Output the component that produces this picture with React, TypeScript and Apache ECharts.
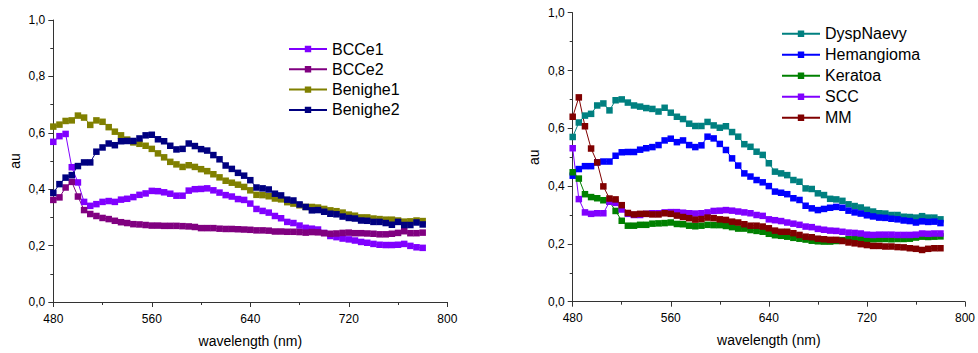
import React, { useEffect, useRef } from "react";
import * as echarts from "echarts";

// wavelengths 480..780 nm, step 5
const wavelengths: number[] = Array.from({ length: 61 }, (_, i) => 480 + 5 * i);

const xTicks = [480, 560, 640, 720, 800];

// Left panel
const BCCe1 = [0.568,0.588,0.596,0.478,0.424,0.355,0.341,0.347,0.355,0.358,0.355,0.363,0.366,0.372,0.380,0.385,0.394,0.393,0.389,0.384,0.377,0.377,0.395,0.400,0.401,0.403,0.396,0.388,0.379,0.374,0.365,0.362,0.349,0.330,0.323,0.317,0.305,0.297,0.284,0.280,0.271,0.263,0.260,0.257,0.245,0.234,0.230,0.225,0.222,0.218,0.213,0.210,0.206,0.203,0.202,0.202,0.203,0.206,0.199,0.194,0.192];
const BCCe2 = [0.362,0.371,0.406,0.426,0.374,0.326,0.312,0.305,0.298,0.294,0.288,0.283,0.280,0.276,0.275,0.273,0.271,0.271,0.270,0.270,0.270,0.269,0.268,0.266,0.262,0.262,0.262,0.260,0.259,0.259,0.258,0.257,0.256,0.254,0.254,0.253,0.250,0.250,0.249,0.249,0.248,0.246,0.248,0.247,0.244,0.242,0.243,0.245,0.246,0.244,0.244,0.243,0.242,0.240,0.240,0.242,0.245,0.251,0.244,0.244,0.246];
const Benighe1 = [0.622,0.629,0.642,0.644,0.661,0.654,0.628,0.644,0.639,0.620,0.604,0.591,0.576,0.566,0.561,0.554,0.543,0.527,0.513,0.497,0.488,0.479,0.485,0.479,0.471,0.464,0.453,0.442,0.430,0.423,0.416,0.408,0.396,0.380,0.379,0.375,0.367,0.364,0.354,0.349,0.343,0.337,0.337,0.335,0.330,0.325,0.322,0.317,0.310,0.306,0.300,0.300,0.296,0.294,0.292,0.292,0.289,0.285,0.286,0.289,0.287];
const Benighe2 = [0.387,0.418,0.441,0.450,0.482,0.495,0.495,0.533,0.548,0.562,0.556,0.570,0.571,0.571,0.580,0.591,0.593,0.577,0.570,0.554,0.541,0.543,0.562,0.553,0.542,0.537,0.521,0.506,0.484,0.472,0.458,0.448,0.432,0.406,0.403,0.399,0.384,0.378,0.363,0.360,0.346,0.337,0.325,0.326,0.320,0.313,0.311,0.303,0.298,0.296,0.289,0.288,0.284,0.284,0.280,0.274,0.284,0.273,0.273,0.282,0.275];

// Right panel
const DyspNaevy = [0.570,0.620,0.644,0.650,0.679,0.686,0.662,0.697,0.700,0.689,0.679,0.675,0.670,0.667,0.658,0.671,0.654,0.640,0.632,0.616,0.608,0.608,0.622,0.610,0.602,0.607,0.587,0.571,0.545,0.536,0.519,0.508,0.479,0.450,0.444,0.438,0.421,0.415,0.392,0.390,0.375,0.369,0.356,0.354,0.349,0.337,0.331,0.326,0.318,0.312,0.306,0.305,0.300,0.300,0.294,0.293,0.291,0.296,0.291,0.291,0.285];
const Hemangioma = [0.436,0.459,0.469,0.469,0.482,0.485,0.485,0.505,0.517,0.518,0.518,0.526,0.531,0.535,0.542,0.558,0.564,0.552,0.558,0.542,0.535,0.541,0.571,0.565,0.546,0.525,0.496,0.471,0.444,0.433,0.421,0.413,0.400,0.381,0.377,0.372,0.358,0.352,0.332,0.323,0.317,0.321,0.325,0.328,0.325,0.315,0.309,0.305,0.299,0.295,0.291,0.290,0.287,0.285,0.281,0.279,0.274,0.278,0.276,0.277,0.272];
const Keratoa = [0.448,0.426,0.372,0.362,0.358,0.351,0.346,0.314,0.280,0.263,0.263,0.266,0.266,0.270,0.271,0.272,0.274,0.269,0.268,0.263,0.261,0.263,0.266,0.265,0.265,0.262,0.258,0.253,0.253,0.248,0.245,0.242,0.235,0.230,0.228,0.225,0.221,0.218,0.215,0.211,0.209,0.208,0.208,0.210,0.213,0.216,0.217,0.217,0.217,0.216,0.217,0.217,0.216,0.217,0.217,0.218,0.222,0.225,0.224,0.225,0.226];
const SCC = [0.531,0.355,0.309,0.304,0.306,0.306,0.346,0.342,0.319,0.304,0.300,0.300,0.304,0.306,0.306,0.309,0.310,0.310,0.308,0.306,0.305,0.306,0.309,0.314,0.315,0.317,0.315,0.312,0.309,0.306,0.300,0.297,0.285,0.282,0.279,0.274,0.270,0.266,0.260,0.258,0.252,0.249,0.246,0.245,0.242,0.239,0.238,0.236,0.232,0.231,0.232,0.232,0.232,0.231,0.231,0.231,0.232,0.236,0.235,0.236,0.236];
const MM = [0.640,0.707,0.607,0.530,0.482,0.399,0.357,0.354,0.334,0.307,0.302,0.304,0.304,0.302,0.302,0.306,0.304,0.298,0.293,0.289,0.284,0.286,0.291,0.289,0.285,0.283,0.277,0.274,0.268,0.263,0.263,0.260,0.254,0.246,0.242,0.242,0.237,0.231,0.225,0.223,0.218,0.216,0.214,0.214,0.210,0.205,0.202,0.199,0.196,0.193,0.193,0.191,0.191,0.189,0.188,0.185,0.183,0.179,0.183,0.185,0.185];

const leftSeries = [
  { name: "BCCe1", data: BCCe1, color: "#8000ff" },
  { name: "BCCe2", data: BCCe2, color: "#800080" },
  { name: "Benighe1", data: Benighe1, color: "#808000" },
  { name: "Benighe2", data: Benighe2, color: "#000080" },
];
const rightSeries = [
  { name: "DyspNaevy", data: DyspNaevy, color: "#008080" },
  { name: "Hemangioma", data: Hemangioma, color: "#0000ff" },
  { name: "Keratoa", data: Keratoa, color: "#008000" },
  { name: "SCC", data: SCC, color: "#8000ff" },
  { name: "MM", data: MM, color: "#800000" },
];

const FONT = "'Liberation Sans', Arial, sans-serif";
const AXIS_COLOR = "#333";

function xAxis(gridIndex: number, gap: number, margin: number) {
  return {
    type: "value",
    gridIndex,
    min: xTicks[0],
    max: xTicks[xTicks.length - 1],
    interval: xTicks[1] - xTicks[0],
    name: "wavelength (nm)",
    nameLocation: "middle",
    nameGap: gap,
    nameTextStyle: { fontFamily: FONT, fontSize: 14, color: "#000" },
    axisLine: { show: true, lineStyle: { color: AXIS_COLOR, width: 1 } },
    axisTick: { show: true, length: 5, lineStyle: { color: AXIS_COLOR } },
    minorTick: { show: true, splitNumber: 2, length: 3, lineStyle: { color: AXIS_COLOR } },
    splitLine: { show: false },
    axisLabel: { fontFamily: FONT, fontSize: 12, color: "#000", margin },
  };
}

function yAxis(gridIndex: number, gap: number) {
  return {
    type: "value",
    gridIndex,
    min: 0,
    max: 1,
    interval: 0.2,
    name: "au",
    nameLocation: "middle",
    nameGap: gap,
    nameTextStyle: { fontFamily: FONT, fontSize: 14, color: "#000" },
    axisLine: { show: true, lineStyle: { color: AXIS_COLOR, width: 1 } },
    axisTick: { show: true, length: 5, lineStyle: { color: AXIS_COLOR } },
    minorTick: { show: true, splitNumber: 2, length: 3, lineStyle: { color: AXIS_COLOR } },
    splitLine: { show: false },
    axisLabel: {
      fontFamily: FONT,
      fontSize: 12,
      color: "#000",
      margin: 8,
      formatter: (v: number) => v.toFixed(1).replace(".", ","),
    },
  };
}

function makeSeries(list: typeof leftSeries, idx: number) {
  return list.map((s) => ({
    name: s.name,
    type: "line",
    xAxisIndex: idx,
    yAxisIndex: idx,
    data: wavelengths.map((w, i) => [w, s.data[i]]),
    symbol: "rect",
    symbolSize: 6.5,
    lineStyle: { color: s.color, width: 1 },
    itemStyle: { color: s.color },
    color: s.color,
    clip: true,
  }));
}

export default function App() {
  const ref = useRef<HTMLDivElement>(null);
  useEffect(() => {
    if (!ref.current) return;
    const chart = echarts.init(ref.current, undefined, { renderer: "svg" });
    chart.setOption({
      animation: false,
      backgroundColor: "#fff",
      grid: [
        { left: 53.3, top: 20, width: 394, height: 289.3 },
        { left: 572.7, top: 12.7, width: 394.3, height: 289 },
      ],
      xAxis: [xAxis(0, 32, 11), xAxis(1, 31, 10)],
      yAxis: [yAxis(0, 31), yAxis(1, 32)],
      legend: [
        {
          data: leftSeries.map((s) => s.name),
          orient: "vertical",
          left: 288,
          top: 40,
          padding: 0,
          itemWidth: 38,
          itemHeight: 8,
          itemGap: 2.3,
          textStyle: { fontFamily: FONT, fontSize: 16, color: "#000", lineHeight: 18 },
        },
        {
          data: rightSeries.map((s) => s.name),
          orient: "vertical",
          left: 781,
          top: 24.7,
          padding: 0,
          itemWidth: 38,
          itemHeight: 8,
          itemGap: 3,
          textStyle: { fontFamily: FONT, fontSize: 16, color: "#000", lineHeight: 18 },
        },
      ],
      series: [...makeSeries(leftSeries, 0), ...makeSeries(rightSeries, 1)],
    });
    return () => chart.dispose();
  }, []);
  return (
    <div
      ref={ref}
      style={{ position: "fixed", left: 0, top: 0, width: 978, height: 353 }}
    />
  );
}
